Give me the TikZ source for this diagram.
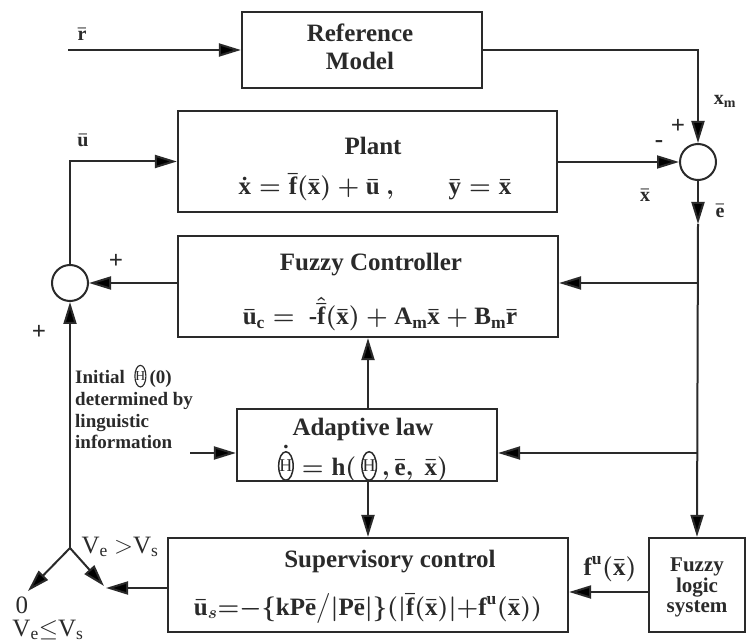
\documentclass[tikz,border=0pt]{standalone}
\usepackage{amsmath,amssymb}
\usepackage{fontspec}
\setmainfont{Liberation Serif}[BoldFont={Liberation Serif Bold}]
\usetikzlibrary{arrows.meta,calc}
\definecolor{ink}{HTML}{2A2A2A}
\newcommand{\tb}[1]{\text{#1}}
\newcommand{\Th}{\tikz[baseline=0pt,x=1em,y=1em]{\draw[line width=0.06em,ink] (0,0.36) ellipse (0.29 and 0.57); \node[inner sep=0pt,outer sep=0pt,anchor=center,text=ink] at (0,0.36) {\scalebox{0.72}{\mdseries H}};}}
\begin{document}
\begin{tikzpicture}[x=1pt,y=-1pt,
  box/.style={draw=ink, line width=2.2pt, rectangle, inner sep=0pt},
  sumc/.style={draw=ink, line width=2pt, circle, minimum size=36pt, inner sep=0pt},
  arr/.style={draw=ink, line width=2pt, -{Triangle[length=22pt,width=13pt]}},
  ttl/.style={font=\fontsize{25}{28}\selectfont\bfseries\boldmath, text=ink, inner sep=0pt, anchor=base},
  eqn/.style={font=\fontsize{25}{28}\selectfont\bfseries\boldmath, text=ink, inner sep=0pt, anchor=base},
  lbl/.style={font=\fontsize{20}{22}\selectfont\bfseries\boldmath, text=ink, inner sep=0pt},
  sgn/.style={font=\fontsize{25}{28}\selectfont\bfseries, text=ink, inner sep=0pt},
  small/.style={font=\fontsize{19}{21}\selectfont\bfseries, text=ink, inner sep=0pt, anchor=base west},
  fl/.style={font=\fontsize{21}{23}\selectfont\bfseries, text=ink, inner sep=0pt, anchor=base},
  vv/.style={font=\fontsize{25}{28}\selectfont, text=ink, inner sep=0pt, anchor=base}]
\useasboundingbox (0,0) rectangle (747,644);

% boxes
\node[box, minimum width=240pt, minimum height=76pt] (ref) at (362,50) {};
\node[ttl] (refA) at (360,42) {Reference};
\node[ttl] (refB) at (360,70) {Model};

\node[box, minimum width=379pt, minimum height=101pt] (plant) at (367.5,161.5) {};
\node[ttl] (plantT) at (373,155) {Plant};
\node[eqn] (plantE) at (375,195) {$\dot{\tb{x}} = \bar{\tb{f}}(\bar{\tb{x}}) + \bar{\tb{u}}\ ,\qquad \bar{\tb{y}} = \bar{\tb{x}}$};

\node[box, minimum width=380pt, minimum height=101pt] (fc) at (368,286.5) {};
\node[ttl] (fcT) at (371,271) {Fuzzy Controller};
\node[eqn] (fcE) at (380,325) {$\bar{\tb{u}}_{\tb{c}} =\ \tb{-}\hat{\bar{\tb{f}}}(\bar{\tb{x}}) + \tb{A}_{\tb{m}}\bar{\tb{x}} + \tb{B}_{\tb{m}}\bar{\tb{r}}$};

\node[box, minimum width=260pt, minimum height=72pt] (adapt) at (367,445) {};
\node[ttl] (adT) at (363,435) {Adaptive law};
\node[eqn] (adE) at (363,475) {$\dot{\Th} = \tb{h}(\,\Th\,, \bar{\tb{e}},\ \bar{\tb{x}})$};

\node[box, minimum width=400pt, minimum height=94pt] (sup) at (368,585) {};
\node[ttl] (supT) at (390,567) {Supervisory control};
\node[eqn] (supE) at (368,615) {$\bar{\tb{u}}_{s}{=}{-}\{\tb{kP}\bar{\tb{e}}\big/|\tb{P}\bar{\tb{e}}|\}(|\bar{\tb{f}}(\bar{\tb{x}})|{+}\tb{f}^{\tb{u}}(\bar{\tb{x}}))$};

\node[box, minimum width=96pt, minimum height=94pt] (fls) at (697,585) {};
\node[fl] (flsA) at (697,571) {Fuzzy};
\node[fl] (flsB) at (697,592) {logic};
\node[fl] (flsC) at (697,612) {system};

% summing junctions
\node[sumc] (sumR) at (698,162) {};
\node[sumc] (sumL) at (70,283) {};

% coordinates
\coordinate (rin) at (68,50);
\coordinate (ej) at (698,224);
\coordinate (J) at (70,548);
\coordinate (swL) at (28,591);
\coordinate (swR) at (104,586);
\coordinate (swH) at (106,588);
\coordinate (infoEnd) at (190,453);

% connectors
\draw[arr] (rin) -- (ref.west);
\draw[arr] (ref.east) -| (sumR.north);
\draw[arr] (plant.east |- sumR.west) -- (sumR.west);
\draw[arr] (sumR.south) -- (ej);
\draw[arr] (ej) -- (fls.north);
\draw[arr] (ej |- sumL.east) -- (fc.east |- sumL.east);
\draw[arr] (ej |- infoEnd) -- (adapt.east |- infoEnd);
\draw[arr] (fc.west |- sumL.east) -- (sumL.east);
\draw[arr] (sumL.north) |- (plant.west);
\draw[arr] (adapt.north -| 368,0) -- (fc.south -| 368,0);
\draw[arr] (adapt.south -| 368,0) -- (sup.north -| 368,0);
\draw[arr] (fls.west |- 0,592) -- (sup.east |- 0,592);
\draw[arr] (sup.west |- swH) -- (swH);
\draw[arr] (J) -- (sumL.south);
\draw[arr] (J) -- (swL);
\draw[arr] (J) -- (swR);
\draw[arr] (infoEnd) -- (adapt.west |- infoEnd);

% labels
\node[lbl] (lr) at (82,34) {$\bar{\tb{r}}$};
\node[lbl] (lu) at (83,140) {$\bar{\tb{u}}$};
\node[lbl] (lxm) at (725,101) {$\tb{x}_{\tb{m}}$};
\node[lbl] (lx) at (645,195) {$\bar{\tb{x}}$};
\node[lbl] (le) at (720,211) {$\bar{\tb{e}}$};
\node[sgn] (pR) at (678,126) {+};
\node[sgn] (mR) at (659,144) {-};
\node[sgn] (pL1) at (116,261) {+};
\node[sgn] (pL2) at (39,332) {+};
\node[eqn] (lfu) at (610,575) {$\tb{f}^{\tb{u}}(\bar{\tb{x}})$};

\node[small] (initA) at (75,383) {Initial \ \Th\,(0)};
\node[small] (initB) at (75,405) {determined by};
\node[small] (initC) at (75,427) {linguistic};
\node[small] (initD) at (75,448) {information};

\node[vv] (vgt) at (120,553) {V\textsubscript{e} $>$V\textsubscript{s}};
\node[vv] (vz) at (22,613) {0};
\node[vv] (vle) at (48,636) {V\textsubscript{e}$\leq$V\textsubscript{s}};
\end{tikzpicture}
\end{document}
